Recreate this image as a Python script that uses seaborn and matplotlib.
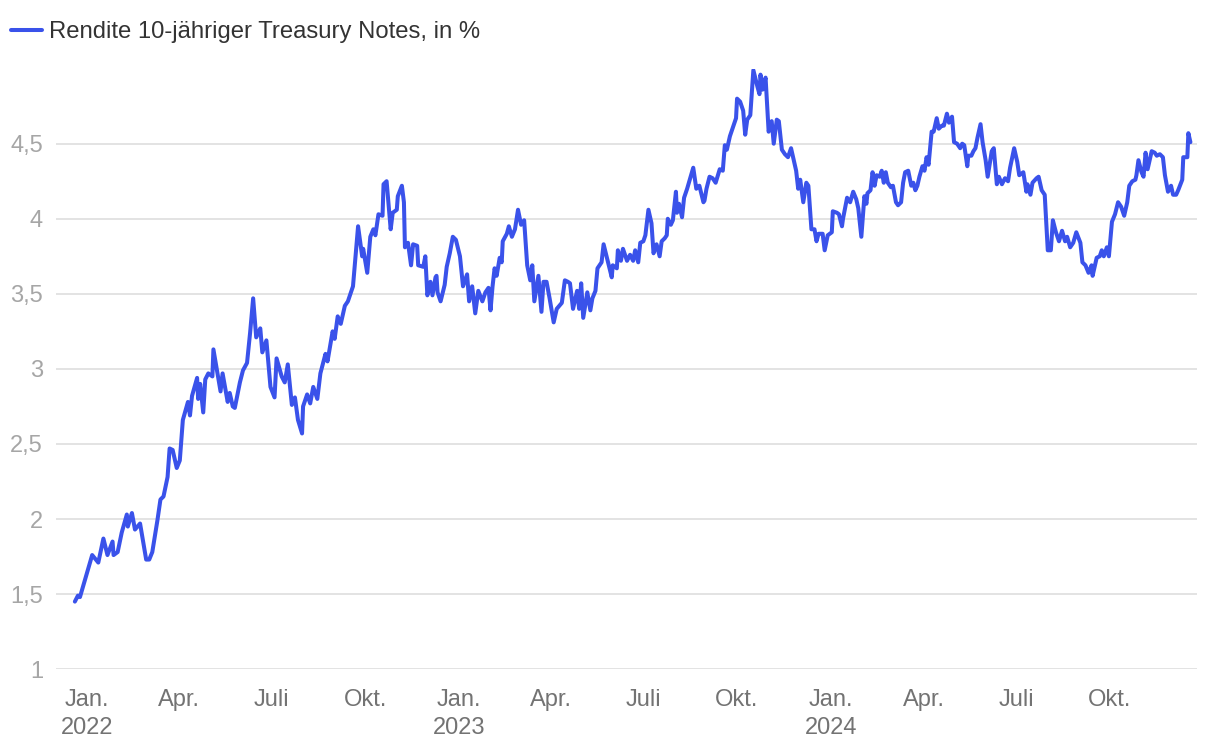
import numpy as np
import pandas as pd
import matplotlib
matplotlib.use("Agg")
import matplotlib.pyplot as plt
import seaborn as sns

# DATEN
# Tage seit dem 01.01.2022 und Rendite der 10-jährigen Treasury Notes (in %)
START = pd.Timestamp("2022-01-01")

tage = [
    -12, -9, -7, -4, -1, 5, 11, 16, 20, 25, 26, 30, 34, 39, 40, 44, 47, 52, 58, 61,
    64, 69, 72, 75, 79, 81, 84, 88, 91, 94, 99, 101, 103, 108, 109, 111, 114, 116, 119, 123,
    124, 131, 133, 138, 140, 143, 145, 150, 153, 157, 160, 163, 166, 170, 172, 176, 180, 184, 186, 191,
    194, 197, 201, 204, 207, 211, 212, 216, 219, 222, 226, 229, 234, 236, 241, 243, 246, 249, 253, 256,
    258, 261, 263, 266, 270, 271, 275, 278, 281, 283, 286, 290, 291, 294, 298, 300, 304, 305, 309, 311,
    312, 315, 318, 320, 324, 325, 330, 332, 334, 337, 339, 342, 343, 344, 347, 351, 353, 356, 359, 362,
    366, 369, 373, 375, 378, 381, 384, 388, 391, 394, 396, 398, 400, 402, 405, 407, 408, 412, 414, 417,
    420, 423, 426, 429, 432, 435, 437, 439, 443, 446, 448, 451, 454, 458, 461, 466, 469, 472, 474, 477,
    481, 483, 485, 487, 491, 494, 496, 499, 501, 505, 507, 511, 515, 516, 520, 521, 524, 526, 530, 533,
    536, 538, 541, 543, 546, 548, 551, 554, 556, 559, 562, 564, 567, 569, 570, 573, 575, 578, 579, 581,
    584, 586, 589, 592, 595, 598, 601, 605, 606, 608, 611, 614, 617, 621, 624, 626, 628, 631, 634, 637,
    638, 641, 644, 646, 648, 651, 654, 658, 660, 661, 663, 666, 669, 672, 674, 677, 679, 682, 685, 688,
    691, 693, 696, 698, 700, 703, 706, 708, 711, 714, 716, 718, 722, 724, 727, 731, 732, 736, 738, 741,
    742, 746, 749, 752, 755, 757, 760, 763, 765, 766, 769, 771, 773, 775, 778, 780, 782, 784, 786, 789,
    791, 794, 796, 799, 801, 803, 806, 809, 811, 813, 815, 817, 820, 822, 824, 826, 829, 831, 834, 836,
    839, 841, 844, 846, 849, 851, 854, 857, 859, 861, 864, 865, 868, 870, 872, 874, 877, 879, 882, 884,
    888, 890, 893, 895, 898, 901, 904, 906, 910, 913, 915, 919, 922, 923, 926, 928, 932, 934, 937, 940,
    943, 946, 948, 951, 954, 957, 960, 962, 965, 968, 971, 975, 977, 980, 983, 986, 987, 991, 994, 996,
    998, 1001, 1003, 1006, 1009, 1012, 1015, 1018, 1021, 1023, 1026, 1029, 1030, 1032, 1035, 1037, 1039, 1041, 1045, 1048,
    1050, 1053, 1056, 1058, 1061, 1064, 1066, 1069, 1071, 1075, 1076, 1080, 1081, 1083,
]

rendite = [
    1.45, 1.49, 1.48, 1.55, 1.62, 1.76, 1.71, 1.87, 1.76, 1.85, 1.76, 1.78, 1.91, 2.03, 1.95, 2.04, 1.93, 1.97, 1.73, 1.73,
    1.78, 1.99, 2.13, 2.15, 2.28, 2.47, 2.46, 2.34, 2.39, 2.66, 2.78, 2.69, 2.82, 2.94, 2.80, 2.90, 2.71, 2.93, 2.97, 2.95,
    3.13, 2.85, 2.97, 2.78, 2.84, 2.75, 2.74, 2.91, 2.99, 3.04, 3.24, 3.47, 3.21, 3.27, 3.11, 3.19, 2.88, 2.81, 3.07, 2.95,
    2.91, 3.03, 2.76, 2.81, 2.66, 2.57, 2.75, 2.83, 2.77, 2.88, 2.80, 2.97, 3.10, 3.05, 3.25, 3.20, 3.35, 3.30, 3.42, 3.45,
    3.49, 3.55, 3.71, 3.95, 3.75, 3.80, 3.64, 3.88, 3.93, 3.89, 4.03, 4.02, 4.23, 4.25, 3.93, 4.04, 4.06, 4.15, 4.22, 4.11,
    3.81, 3.84, 3.69, 3.83, 3.82, 3.69, 3.68, 3.75, 3.49, 3.58, 3.49, 3.61, 3.62, 3.51, 3.45, 3.56, 3.68, 3.77, 3.88, 3.86,
    3.75, 3.55, 3.63, 3.45, 3.55, 3.37, 3.52, 3.45, 3.51, 3.54, 3.39, 3.55, 3.67, 3.62, 3.74, 3.71, 3.85, 3.90, 3.95, 3.88,
    3.93, 4.06, 3.96, 3.99, 3.69, 3.59, 3.69, 3.45, 3.62, 3.38, 3.58, 3.58, 3.47, 3.31, 3.40, 3.44, 3.59, 3.58, 3.57, 3.40,
    3.52, 3.40, 3.57, 3.34, 3.51, 3.39, 3.47, 3.52, 3.67, 3.71, 3.83, 3.72, 3.61, 3.69, 3.67, 3.79, 3.72, 3.80, 3.72, 3.76,
    3.72, 3.79, 3.71, 3.84, 3.85, 3.89, 4.06, 3.97, 3.77, 3.83, 3.75, 3.85, 3.87, 3.89, 4.00, 3.96, 3.99, 4.18, 4.04, 4.10,
    4.01, 4.14, 4.20, 4.27, 4.34, 4.20, 4.22, 4.11, 4.12, 4.20, 4.28, 4.27, 4.24, 4.33, 4.32, 4.49, 4.46, 4.55, 4.61, 4.67,
    4.80, 4.78, 4.72, 4.56, 4.66, 4.69, 4.99, 4.88, 4.83, 4.96, 4.86, 4.94, 4.58, 4.65, 4.50, 4.66, 4.65, 4.46, 4.43, 4.41,
    4.47, 4.41, 4.32, 4.20, 4.26, 4.11, 4.24, 4.22, 3.93, 3.93, 3.85, 3.90, 3.90, 3.79, 3.89, 3.91, 4.05, 4.04, 4.03, 3.95,
    4.00, 4.14, 4.11, 4.18, 4.13, 4.07, 3.88, 4.15, 4.10, 4.17, 4.19, 4.31, 4.22, 4.29, 4.28, 4.32, 4.24, 4.31, 4.24, 4.21,
    4.22, 4.11, 4.09, 4.11, 4.24, 4.31, 4.32, 4.22, 4.24, 4.19, 4.22, 4.28, 4.35, 4.32, 4.41, 4.36, 4.58, 4.58, 4.67, 4.60,
    4.62, 4.62, 4.70, 4.64, 4.68, 4.51, 4.50, 4.47, 4.50, 4.49, 4.35, 4.42, 4.42, 4.45, 4.47, 4.54, 4.63, 4.51, 4.39, 4.28,
    4.45, 4.47, 4.23, 4.28, 4.23, 4.27, 4.25, 4.34, 4.47, 4.38, 4.29, 4.31, 4.18, 4.23, 4.16, 4.24, 4.27, 4.28, 4.19, 4.16,
    3.79, 3.79, 3.99, 3.91, 3.85, 3.92, 3.85, 3.88, 3.81, 3.84, 3.91, 3.84, 3.71, 3.69, 3.64, 3.69, 3.62, 3.74, 3.75, 3.79,
    3.75, 3.81, 3.75, 3.98, 4.03, 4.11, 4.08, 4.02, 4.11, 4.22, 4.25, 4.26, 4.29, 4.39, 4.31, 4.28, 4.44, 4.33, 4.45, 4.44,
    4.42, 4.43, 4.41, 4.29, 4.18, 4.22, 4.16, 4.16, 4.19, 4.26, 4.41, 4.41, 4.57, 4.51,
]

monate = ["Jan.", "Apr.", "Juli", "Okt."]
jahre = [2022, 2023, 2024]
y_ticks = [1, 1.5, 2, 2.5, 3, 3.5, 4, 4.5]
legende = "Rendite 10-jähriger Treasury Notes, in %"

FARBE_LINIE = "#3a52ea"
FARBE_GITTER = "#e3e3e3"

df = pd.DataFrame({
    "Datum": START + pd.to_timedelta(tage, unit="D"),
    "Rendite": rendite,
})

# STIL
sns.set_theme(style="white")
plt.rcParams["font.family"] = ["Liberation Sans", "DejaVu Sans"]

fig = plt.figure(figsize=(12.2, 7.46), dpi=100)
ax = fig.add_axes([0.046, 0.103, 0.935, 0.805])

sns.lineplot(data=df, x="Datum", y="Rendite", ax=ax, color=FARBE_LINIE,
             linewidth=2.9, label=legende, legend=False)

# Achsen
ax.set_xlim(START + pd.Timedelta(days=-30.4), START + pd.Timedelta(days=1089.3))
ax.set_ylim(1, 5.0)
ax.set_yticks(y_ticks)
ax.set_yticklabels([f"{v:g}".replace(".", ",") for v in y_ticks])

x_pos, x_lab = [], []
for j in jahre:
    for i, m in enumerate(monate):
        x_pos.append(pd.Timestamp(year=j, month=1 + 3 * i, day=1))
        x_lab.append(f"{m}\n{j}" if i == 0 else m)
ax.set_xticks(x_pos)
ax.set_xticklabels(x_lab, linespacing=1.36)

ax.grid(axis="y", color=FARBE_GITTER, linewidth=1.4)
ax.grid(axis="x", visible=False)
ax.set_axisbelow(True)
for s in ax.spines.values():
    s.set_visible(False)

ax.tick_params(axis="y", length=0, pad=9.4, labelsize=17, labelcolor="#a6a6a6")
ax.tick_params(axis="x", length=0, pad=14.5, labelsize=17, labelcolor="#737373")
for lbl in ax.get_xticklabels():
    lbl.set_verticalalignment("top")
ax.set_xlabel("")
ax.set_ylabel("")

# Legende oben links
fig.legend(handles=ax.get_lines()[:1], labels=[legende], loc="upper left",
           bbox_to_anchor=(11 / 1220, 1 - 21 / 746), frameon=False, fontsize=17.2,
           handlelength=1.28, handletextpad=0.32, borderpad=0, borderaxespad=0,
           labelcolor="#333333")

fig.savefig("out.png", dpi=100)
